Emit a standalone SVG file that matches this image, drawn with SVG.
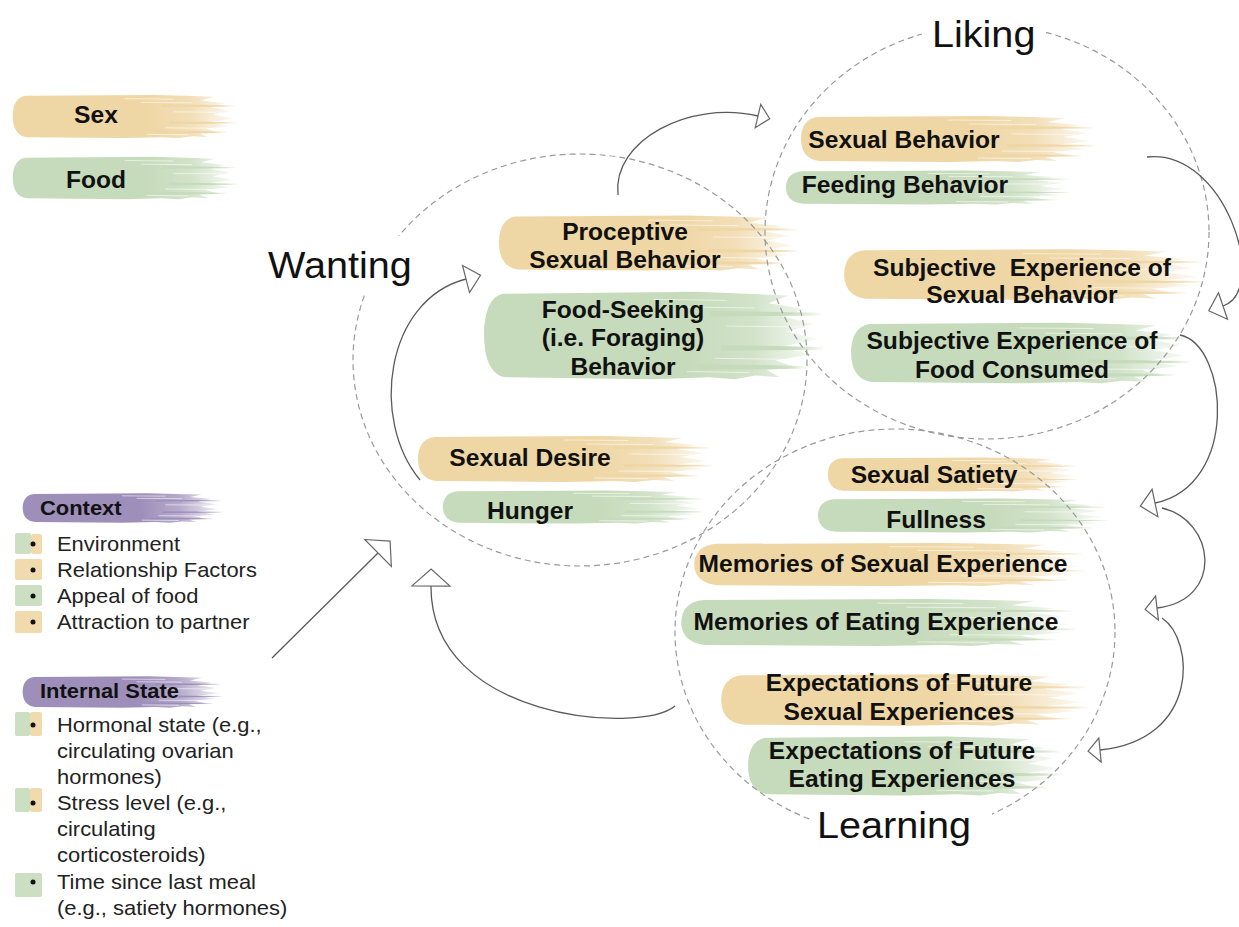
<svg xmlns="http://www.w3.org/2000/svg" width="1239" height="927" viewBox="0 0 1239 927">
  <style>
    .lbl { font-family: "Liberation Sans", Arial, sans-serif; font-weight: bold; font-size: 23px; fill: #111; text-anchor: middle; }
    .hd { font-family: "Liberation Sans", Arial, sans-serif; font-weight: bold; font-size: 20.5px; fill: #111; }
    .li { font-family: "Liberation Sans", Arial, sans-serif; font-size: 20.5px; fill: #222; }
    .big { font-family: "Liberation Sans", Arial, sans-serif; font-size: 37px; fill: #111; }
    .sex { fill: url(#gSex); }
    .food { fill: url(#gFood); }
    .ctx { fill: url(#gCtx); }
    .swS { fill: #EFD6A5; opacity: 0.9; }
    .swF { fill: #C6DBBB; opacity: 0.9; }
    .dot { fill: #111; }
    .ring { fill: none; stroke: #9a9a9a; stroke-width: 1.2; stroke-dasharray: 6 4; }
    .conn path, .conn line { fill: none; stroke: #5a5a5a; stroke-width: 1.3; }
    .tex path { fill: none; stroke: #fff; stroke-opacity: 0.55; stroke-width: 1; vector-effect: non-scaling-stroke; }
    .cover { fill: #fff; }
  </style>
  <defs>
    <linearGradient id="gSex" x1="0" y1="0" x2="1" y2="0">
      <stop offset="0" stop-color="#EFD6A5"/>
      <stop offset="0.6" stop-color="#EFD6A5"/>
      <stop offset="0.8" stop-color="#EFD6A5" stop-opacity="0.8"/>
      <stop offset="1" stop-color="#EFD6A5" stop-opacity="0.12"/>
    </linearGradient>
    <linearGradient id="gFood" x1="0" y1="0" x2="1" y2="0">
      <stop offset="0" stop-color="#C6DBBB"/>
      <stop offset="0.6" stop-color="#C6DBBB"/>
      <stop offset="0.8" stop-color="#C6DBBB" stop-opacity="0.8"/>
      <stop offset="1" stop-color="#C6DBBB" stop-opacity="0.12"/>
    </linearGradient>
    <linearGradient id="gCtx" x1="0" y1="0" x2="1" y2="0">
      <stop offset="0" stop-color="#9E8FBA"/>
      <stop offset="0.6" stop-color="#9E8FBA"/>
      <stop offset="0.8" stop-color="#9E8FBA" stop-opacity="0.75"/>
      <stop offset="1" stop-color="#9E8FBA" stop-opacity="0.12"/>
    </linearGradient>
    <!-- paint-brush stroke: rounded left end, streaky fading right end -->
    <symbol id="brush" viewBox="0 0 300 50" preserveAspectRatio="none">
      <path d="M18,3 C7,4 1,12 1,25 C1,37 7,46 20,47 L150,48 L200,47 L222,48 L240,46 L262,47 L250,43 L278,42 L258,38 L290,35 L262,31 L296,27 L268,23 L292,19 L264,15 L284,11 L252,8 L270,4 L232,3 L190,2 Z"/>
      <path d="M200,12 L298,13 L298,14.5 L200,15 Z"/>
      <path d="M210,30 L300,31 L300,32.5 L210,33 Z"/>
      <path d="M190,40 L286,41 L286,42.5 L190,43 Z"/>
      <g class="tex">
        <path d="M150,6 L215,6.5"/>
        <path d="M172,10 L240,10.5"/>
        <path d="M215,20 L280,20.5"/>
        <path d="M205,37 L265,37.5"/>
        <path d="M180,44 L235,44.5"/>
      </g>
    </symbol>
    <marker id="ahL" markerUnits="userSpaceOnUse" viewBox="-2 -22 22 44" markerWidth="22" markerHeight="44" refX="0" refY="0" orient="auto">
      <path d="M0,-19 L17,0 L0,19 Z" fill="#fff" stroke="#666" stroke-width="1.2"/>
    </marker>
    <marker id="ahM" markerUnits="userSpaceOnUse" viewBox="-2 -17 20 34" markerWidth="20" markerHeight="34" refX="0" refY="0" orient="auto">
      <path d="M0,-14 L15,0 L0,14 Z" fill="#fff" stroke="#666" stroke-width="1.2"/>
    </marker>
    <marker id="ahS" markerUnits="userSpaceOnUse" viewBox="-2 -15 17 30" markerWidth="17" markerHeight="30" refX="0" refY="0" orient="auto">
      <path d="M0,-12 L12,0 L0,12 Z" fill="#fff" stroke="#666" stroke-width="1.2"/>
    </marker>
  </defs>

  <rect width="1239" height="927" fill="#fff"/>

  <!-- legend -->
  <g id="legend-sex">
    <use href="#brush" class="sex" x="12" y="93" width="225" height="47"/>
    <text class="lbl" transform="translate(96,123) scale(1.07,1)">Sex</text>
  </g>
  <g id="legend-food">
    <use href="#brush" class="food" x="12" y="155" width="225" height="46"/>
    <text class="lbl" transform="translate(96,188) scale(1.07,1)">Food</text>
  </g>

  <!-- context list -->
  <g id="context">
    <use href="#brush" class="ctx" x="22" y="492" width="200" height="32"/>
    <text class="hd" transform="translate(40,515) scale(1.07,1)">Context</text>
    <rect class="swF" x="15" y="533" width="16" height="21" rx="2"/>
    <rect class="swS" x="31" y="534" width="11" height="20" rx="2"/>
    <rect class="swS" x="15" y="559" width="27" height="21" rx="2"/>
    <rect class="swF" x="15" y="585" width="27" height="21" rx="2"/>
    <rect class="swS" x="15" y="611" width="27" height="22" rx="2"/>
    <circle class="dot" cx="33" cy="544" r="2.5"/>
    <circle class="dot" cx="33" cy="570" r="2.5"/>
    <circle class="dot" cx="33" cy="596" r="2.5"/>
    <circle class="dot" cx="33" cy="622" r="2.5"/>
    <text class="li" transform="translate(57,551) scale(1.07,1)">Environment</text>
    <text class="li" transform="translate(57,577) scale(1.07,1)">Relationship Factors</text>
    <text class="li" transform="translate(57,603) scale(1.07,1)">Appeal of food</text>
    <text class="li" transform="translate(57,629) scale(1.07,1)">Attraction to partner</text>
  </g>

  <!-- internal state list -->
  <g id="internal-state">
    <use href="#brush" class="ctx" x="22" y="675" width="200" height="34"/>
    <text class="hd" transform="translate(40,698) scale(1.07,1)">Internal State</text>
    <rect class="swF" x="15" y="712" width="15" height="24" rx="2"/>
    <rect class="swS" x="30" y="712" width="12" height="24" rx="2"/>
    <rect class="swF" x="15" y="788" width="15" height="24" rx="2"/>
    <rect class="swS" x="30" y="788" width="12" height="24" rx="2"/>
    <rect class="swF" x="15" y="873" width="27" height="24" rx="2"/>
    <circle class="dot" cx="33" cy="725" r="2.5"/>
    <circle class="dot" cx="33" cy="803" r="2.5"/>
    <circle class="dot" cx="33" cy="882" r="2.5"/>
    <text class="li" transform="translate(57,732) scale(1.07,1)">
      <tspan x="0" y="0">Hormonal state (e.g.,</tspan>
      <tspan x="0" y="26">circulating ovarian</tspan>
      <tspan x="0" y="52">hormones)</tspan>
    </text>
    <text class="li" transform="translate(57,810) scale(1.07,1)">
      <tspan x="0" y="0">Stress level (e.g.,</tspan>
      <tspan x="0" y="26">circulating</tspan>
      <tspan x="0" y="52">corticosteroids)</tspan>
    </text>
    <text class="li" transform="translate(57,889) scale(1.07,1)">
      <tspan x="0" y="0">Time since last meal</tspan>
      <tspan x="0" y="26">(e.g., satiety hormones)</tspan>
    </text>
  </g>

  <!-- Wanting nodes -->
  <g id="proceptive">
    <use href="#brush" class="sex" x="498" y="213" width="300" height="60"/>
    <text class="lbl" transform="translate(625,240) scale(1.07,1)"><tspan x="0" y="0">Proceptive</tspan><tspan x="0" y="28">Sexual Behavior</tspan></text>
  </g>
  <g id="food-seeking">
    <use href="#brush" class="food" x="483" y="288" width="340" height="95"/>
    <text class="lbl" transform="translate(623,318) scale(1.07,1)"><tspan x="0" y="0">Food-Seeking</tspan><tspan x="0" y="28.5">(i.e. Foraging)</tspan><tspan x="0" y="57">Behavior</tspan></text>
  </g>
  <g id="sexual-desire">
    <use href="#brush" class="sex" x="417" y="434" width="295" height="50"/>
    <text class="lbl" transform="translate(530,466) scale(1.07,1)">Sexual Desire</text>
  </g>
  <g id="hunger">
    <use href="#brush" class="food" x="442" y="489" width="262" height="36"/>
    <text class="lbl" transform="translate(530,519) scale(1.07,1)">Hunger</text>
  </g>

  <!-- Liking nodes -->
  <g id="sexual-behavior">
    <use href="#brush" class="sex" x="800" y="114" width="295" height="50"/>
    <text class="lbl" transform="translate(904,148) scale(1.07,1)">Sexual Behavior</text>
  </g>
  <g id="feeding-behavior">
    <use href="#brush" class="food" x="785" y="169" width="285" height="37"/>
    <text class="lbl" transform="translate(905,193) scale(1.07,1)">Feeding Behavior</text>
  </g>
  <g id="subjective-sexual">
    <use href="#brush" class="sex" x="843" y="247" width="360" height="55"/>
    <text class="lbl" transform="translate(1022,276) scale(1.07,1)"><tspan x="0" y="0" xml:space="preserve">Subjective  Experience of</tspan><tspan x="0" y="27">Sexual Behavior</tspan></text>
  </g>
  <g id="subjective-food">
    <use href="#brush" class="food" x="850" y="320" width="340" height="66"/>
    <text class="lbl" transform="translate(1012,349) scale(1.07,1)"><tspan x="0" y="0">Subjective Experience of</tspan><tspan x="0" y="29">Food Consumed</tspan></text>
  </g>

  <!-- Learning nodes -->
  <g id="sexual-satiety">
    <use href="#brush" class="sex" x="827" y="456" width="250" height="37"/>
    <text class="lbl" transform="translate(934,483) scale(1.07,1)">Sexual Satiety</text>
  </g>
  <g id="fullness">
    <use href="#brush" class="food" x="817" y="497" width="290" height="37"/>
    <text class="lbl" transform="translate(936,528) scale(1.07,1)">Fullness</text>
  </g>
  <g id="memories-sexual">
    <use href="#brush" class="sex" x="693" y="541" width="392" height="47"/>
    <text class="lbl" transform="translate(883,572) scale(1.07,1)">Memories of Sexual Experience</text>
  </g>
  <g id="memories-eating">
    <use href="#brush" class="food" x="680" y="597" width="395" height="51"/>
    <text class="lbl" transform="translate(876,630) scale(1.07,1)">Memories of Eating Experience</text>
  </g>
  <g id="expectations-sexual">
    <use href="#brush" class="sex" x="720" y="672" width="368" height="56"/>
    <text class="lbl" transform="translate(899,691) scale(1.07,1)"><tspan x="0" y="0">Expectations of Future</tspan><tspan x="0" y="29">Sexual Experiences</tspan></text>
  </g>
  <g id="expectations-eating">
    <use href="#brush" class="food" x="747" y="734" width="315" height="64"/>
    <text class="lbl" transform="translate(902,759) scale(1.07,1)"><tspan x="0" y="0">Expectations of Future</tspan><tspan x="0" y="28">Eating Experiences</tspan></text>
  </g>

  <!-- dashed stage rings -->
  <g id="rings">
    <ellipse id="ring-wanting" class="ring" cx="580" cy="360" rx="227" ry="206"/>
    <ellipse id="ring-liking" class="ring" cx="987" cy="232" rx="222" ry="207"/>
    <ellipse id="ring-learning" class="ring" cx="895" cy="632" rx="220" ry="203"/>
  </g>

  <!-- stage titles, each breaking its ring -->
  <g id="title-wanting">
    <rect class="cover" x="262" y="236" width="152" height="59"/>
    <text class="big" transform="translate(268,278) scale(1.07,1)">Wanting</text>
  </g>
  <g id="title-liking">
    <rect class="cover" x="922" y="8" width="124" height="44"/>
    <text class="big" transform="translate(932,47) scale(1.07,1)">Liking</text>
  </g>
  <g id="title-learning">
    <rect class="cover" x="812" y="800" width="180" height="50"/>
    <text class="big" transform="translate(817,838) scale(1.07,1)">Learning</text>
  </g>

  <!-- connectors -->
  <g id="connectors" class="conn">
    <line x1="272" y1="658" x2="378" y2="553" marker-end="url(#ahL)"/>
    <path d="M675,706 C640,735 430,720 431,586" marker-end="url(#ahL)"/>
    <path d="M420,480 C370,420 385,300 466,279" marker-end="url(#ahM)"/>
    <path d="M618,195 C612,140 690,100 758,116" marker-end="url(#ahS)"/>
    <path d="M1147,157 C1225,148 1270,290 1223,306" marker-end="url(#ahM)"/>
    <path d="M1180,335 C1228,345 1240,485 1155,503" marker-end="url(#ahM)"/>
    <path d="M1162,508 C1215,520 1225,600 1157,608" marker-end="url(#ahS)"/>
    <path d="M1162,618 C1195,640 1200,740 1100,750" marker-end="url(#ahS)"/>
  </g>
</svg>
